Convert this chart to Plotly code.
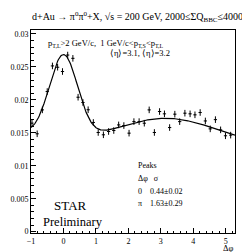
import numpy as np
import plotly.graph_objects as go

# data points (delta phi, correlation)
dphi = [-0.97, -0.81, -0.65, -0.50, -0.34, -0.18, -0.03, 0.13, 0.29, 0.45,
        0.60, 0.76, 0.92, 1.07, 1.23, 1.39, 1.55, 1.70, 1.86, 2.02,
        2.17, 2.33, 2.49, 2.64, 2.80, 2.96, 3.11, 3.27, 3.43, 3.58,
        3.74, 3.90, 4.05, 4.21, 4.37, 4.52, 4.68, 4.84, 4.99, 5.15]
corr = [0.01647, 0.01485, 0.01848, 0.02126, 0.02515, 0.02495, 0.02430, 0.02680, 0.02630, 0.02040,
        0.01960, 0.01850, 0.01657, 0.01505, 0.01470, 0.01520, 0.01535, 0.01620, 0.01610, 0.01495,
        0.01670, 0.01670, 0.01646, 0.01848, 0.01505, 0.01823, 0.01788, 0.01580, 0.01783, 0.01670,
        0.01798, 0.01788, 0.01773, 0.01808, 0.01680, 0.01560, 0.01700, 0.01545, 0.01455, 0.01465]
err_y = [0.0005] * len(dphi)

# fit parameters (gaussians at 0 and pi on a constant)
fit_B = 0.0128
fit_A1 = 0.0127
fit_s1 = 0.44
fit_A2 = 0.0044
fit_s2 = 1.63

xf = np.linspace(-1, 2 * np.pi - 1, 300)
g = lambda x, m, s: np.exp(-(x - m) ** 2 / (2 * s ** 2))
yf = fit_B + fit_A1 * g(xf, 0, fit_s1) + fit_A2 * (g(xf, np.pi, fit_s2) + g(xf, -np.pi, fit_s2))

FONT = "Liberation Serif"

fig = go.Figure()
fig.add_trace(go.Scatter(x=xf, y=yf, mode="lines", line=dict(color="black", width=1.2),
                         hoverinfo="skip"))
fig.add_trace(go.Scatter(x=dphi, y=corr, mode="markers",
                         marker=dict(size=1, color="black"),
                         error_y=dict(type="data", array=err_y, color="black", thickness=1, width=0),
                         error_x=dict(type="constant", value=0.05, color="black", thickness=1, width=0)))

L, R, T, B = 31, 7, 30, 19
W, H = 242, 252
pw = W - L - R
ph = H - T - B

def px(x):
    return (x - L) / pw

def py(y):
    return (H - B - y) / ph

ann = []
def add(text, x, y, size, xanchor="left"):
    ann.append(dict(text=text, x=px(x), y=py(y), xref="paper", yref="paper",
                    xanchor=xanchor, yanchor="middle", showarrow=False,
                    font=dict(family=FONT, size=size, color="black")))

add("d+Au → π<sup>0</sup>π<sup>0</sup>+X, √s = 200 GeV, 2000≤ΣQ<sub>BBC</sub>≤4000", 137, 17, 10, "center")
add("p<sub>T,L</sub>&gt;2 GeV/c,  1 GeV/c&lt;p<sub>T,S</sub>&lt;p<sub>T,L</sub>", 46, 43, 8.5)
add("⟨η⟩=3.1, ⟨η⟩=3.2", 108, 53, 8.5)
add("Peaks", 136, 165, 8)
add("Δφ   σ", 136, 178, 8)
add("0    0.44±0.02", 136, 191, 8)
add("π    1.63±0.29", 136, 203, 8)
add("STAR", 52, 205, 13)
add("Preliminary", 41, 222, 12.5)
add("Δφ", 228, 247.5, 8.5, "center")

fig.update_layout(
    width=W, height=H,
    margin=dict(l=L, r=R, t=T, b=B),
    paper_bgcolor="white", plot_bgcolor="white",
    showlegend=False,
    annotations=ann,
    font=dict(family=FONT, size=8, color="black"),
)
fig.update_xaxes(range=[-1, 2 * np.pi - 1], tickvals=[-1, 0, 1, 2, 3, 4, 5],
                 ticks="inside", ticklen=5, tickcolor="black", showgrid=False, zeroline=False,
                 showline=True, linecolor="black", linewidth=1, mirror=True,
                 minor=dict(dtick=0.2, ticks="inside", ticklen=2.5, tickcolor="black", showgrid=False),
                 tickfont=dict(family=FONT, size=8))
fig.update_yaxes(range=[-0.0002, 0.0306],
                 tickvals=[0, 0.005, 0.01, 0.015, 0.02, 0.025, 0.03],
                 ticktext=["0", "0.005", "0.01", "0.015", "0.02", "0.025", "0.03"],
                 ticks="inside", ticklen=5, tickcolor="black", showgrid=False, zeroline=False,
                 showline=True, linecolor="black", linewidth=1, mirror=True,
                 minor=dict(dtick=0.001, ticks="inside", ticklen=2.5, tickcolor="black", showgrid=False),
                 tickfont=dict(family=FONT, size=8))

fig.write_html("out.html", config={"displayModeBar": False},
               post_script="document.body.style.margin='0';document.body.style.overflow='hidden';")
